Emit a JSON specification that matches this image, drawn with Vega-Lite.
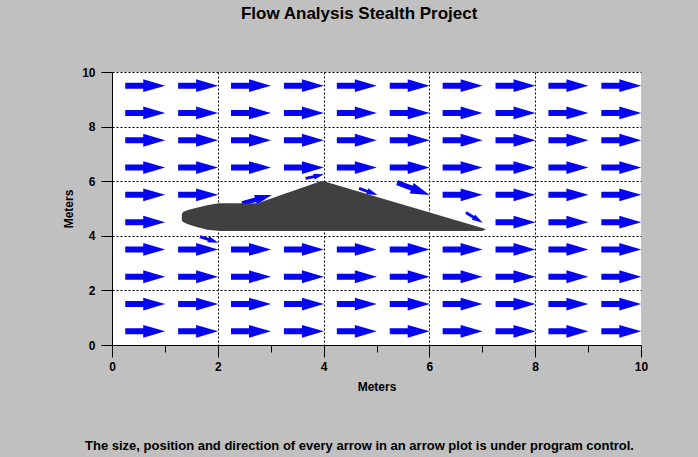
{
  "$schema": "https://vega.github.io/schema/vega-lite/v6.json",
  "background": "#c0c0c0",
  "padding": {"left": 62, "top": 5, "right": 56, "bottom": 4},
  "config": {
    "view": {"fill": "white", "stroke": null},
    "font": "Liberation Sans"
  },
  "title": {
    "text": "Flow Analysis Stealth Project",
    "font": "Liberation Sans",
    "fontSize": 17,
    "fontWeight": "bold",
    "color": "black",
    "anchor": "middle",
    "offset": 43,
    "dx": 4
  },
  "vconcat": [
    {
      "width": 529,
      "height": 273,
      "title": {
        "text": "The size, position and direction of every arrow in an arrow plot is under program control.",
        "orient": "bottom",
        "font": "Liberation Sans",
        "fontSize": 13,
        "fontWeight": "bold",
        "color": "black",
        "anchor": "middle",
        "offset": 48,
        "dx": -17
      },
      "layer": [
        {
          "data": {
            "values": [
              {"x":0.25,"y":0.5,"dir":0,"speed":1},{"x":1.25,"y":0.5,"dir":0,"speed":1},{"x":2.25,"y":0.5,"dir":0,"speed":1},{"x":3.25,"y":0.5,"dir":0,"speed":1},{"x":4.25,"y":0.5,"dir":0,"speed":1},{"x":5.25,"y":0.5,"dir":0,"speed":1},{"x":6.25,"y":0.5,"dir":0,"speed":1},{"x":7.25,"y":0.5,"dir":0,"speed":1},{"x":8.25,"y":0.5,"dir":0,"speed":1},{"x":9.25,"y":0.5,"dir":0,"speed":1},
              {"x":0.25,"y":1.5,"dir":0,"speed":1},{"x":1.25,"y":1.5,"dir":0,"speed":1},{"x":2.25,"y":1.5,"dir":0,"speed":1},{"x":3.25,"y":1.5,"dir":0,"speed":1},{"x":4.25,"y":1.5,"dir":0,"speed":1},{"x":5.25,"y":1.5,"dir":0,"speed":1},{"x":6.25,"y":1.5,"dir":0,"speed":1},{"x":7.25,"y":1.5,"dir":0,"speed":1},{"x":8.25,"y":1.5,"dir":0,"speed":1},{"x":9.25,"y":1.5,"dir":0,"speed":1},
              {"x":0.25,"y":2.5,"dir":0,"speed":1},{"x":1.25,"y":2.5,"dir":0,"speed":1},{"x":2.25,"y":2.5,"dir":0,"speed":1},{"x":3.25,"y":2.5,"dir":0,"speed":1},{"x":4.25,"y":2.5,"dir":0,"speed":1},{"x":5.25,"y":2.5,"dir":0,"speed":1},{"x":6.25,"y":2.5,"dir":0,"speed":1},{"x":7.25,"y":2.5,"dir":0,"speed":1},{"x":8.25,"y":2.5,"dir":0,"speed":1},{"x":9.25,"y":2.5,"dir":0,"speed":1},
              {"x":0.25,"y":3.5,"dir":0,"speed":1},{"x":1.25,"y":3.5,"dir":0,"speed":1},{"x":2.25,"y":3.5,"dir":0,"speed":1},{"x":3.25,"y":3.5,"dir":0,"speed":1},{"x":4.25,"y":3.5,"dir":0,"speed":1},{"x":5.25,"y":3.5,"dir":0,"speed":1},{"x":6.25,"y":3.5,"dir":0,"speed":1},{"x":7.25,"y":3.5,"dir":0,"speed":1},{"x":8.25,"y":3.5,"dir":0,"speed":1},{"x":9.25,"y":3.5,"dir":0,"speed":1},
              {"x":0.25,"y":4.5,"dir":0,"speed":1},{"x":7.25,"y":4.5,"dir":0,"speed":1},{"x":8.25,"y":4.5,"dir":0,"speed":1},{"x":9.25,"y":4.5,"dir":0,"speed":1},
              {"x":0.25,"y":5.5,"dir":0,"speed":1},{"x":1.25,"y":5.5,"dir":0,"speed":1},{"x":6.25,"y":5.5,"dir":0,"speed":1},{"x":7.25,"y":5.5,"dir":0,"speed":1},{"x":8.25,"y":5.5,"dir":0,"speed":1},{"x":9.25,"y":5.5,"dir":0,"speed":1},
              {"x":0.25,"y":6.5,"dir":0,"speed":1},{"x":1.25,"y":6.5,"dir":0,"speed":1},{"x":2.25,"y":6.5,"dir":0,"speed":1},{"x":3.25,"y":6.5,"dir":0,"speed":1},{"x":4.25,"y":6.5,"dir":0,"speed":1},{"x":5.25,"y":6.5,"dir":0,"speed":1},{"x":6.25,"y":6.5,"dir":0,"speed":1},{"x":7.25,"y":6.5,"dir":0,"speed":1},{"x":8.25,"y":6.5,"dir":0,"speed":1},{"x":9.25,"y":6.5,"dir":0,"speed":1},
              {"x":0.25,"y":7.5,"dir":0,"speed":1},{"x":1.25,"y":7.5,"dir":0,"speed":1},{"x":2.25,"y":7.5,"dir":0,"speed":1},{"x":3.25,"y":7.5,"dir":0,"speed":1},{"x":4.25,"y":7.5,"dir":0,"speed":1},{"x":5.25,"y":7.5,"dir":0,"speed":1},{"x":6.25,"y":7.5,"dir":0,"speed":1},{"x":7.25,"y":7.5,"dir":0,"speed":1},{"x":8.25,"y":7.5,"dir":0,"speed":1},{"x":9.25,"y":7.5,"dir":0,"speed":1},
              {"x":0.25,"y":8.5,"dir":0,"speed":1},{"x":1.25,"y":8.5,"dir":0,"speed":1},{"x":2.25,"y":8.5,"dir":0,"speed":1},{"x":3.25,"y":8.5,"dir":0,"speed":1},{"x":4.25,"y":8.5,"dir":0,"speed":1},{"x":5.25,"y":8.5,"dir":0,"speed":1},{"x":6.25,"y":8.5,"dir":0,"speed":1},{"x":7.25,"y":8.5,"dir":0,"speed":1},{"x":8.25,"y":8.5,"dir":0,"speed":1},{"x":9.25,"y":8.5,"dir":0,"speed":1},
              {"x":0.25,"y":9.5,"dir":0,"speed":1},{"x":1.25,"y":9.5,"dir":0,"speed":1},{"x":2.25,"y":9.5,"dir":0,"speed":1},{"x":3.25,"y":9.5,"dir":0,"speed":1},{"x":4.25,"y":9.5,"dir":0,"speed":1},{"x":5.25,"y":9.5,"dir":0,"speed":1},{"x":6.25,"y":9.5,"dir":0,"speed":1},{"x":7.25,"y":9.5,"dir":0,"speed":1},{"x":8.25,"y":9.5,"dir":0,"speed":1},{"x":9.25,"y":9.5,"dir":0,"speed":1},
              {"x":2.46,"y":5.18,"dir":-16,"speed":0.77},
              {"x":3.66,"y":6.1,"dir":-13,"speed":0.47},
              {"x":4.67,"y":5.74,"dir":20,"speed":0.49},
              {"x":5.39,"y":5.95,"dir":21,"speed":0.87},
              {"x":6.69,"y":4.85,"dir":31,"speed":0.49},
              {"x":1.66,"y":3.97,"dir":18,"speed":0.49}
            ]
          },
          "mark": {
            "type": "point",
            "shape": "M0,-0.15L0.9,-0.15L0.9,-0.32L2,0L0.9,0.32L0.9,0.15L0,0.15Z",
            "filled": true,
            "color": "#0505f0",
            "opacity": 1,
            "strokeWidth": 0
          },
          "encoding": {
            "x": {
              "field": "x",
              "type": "quantitative",
              "scale": {"domain": [0, 10], "nice": false, "zero": false},
              "axis": {
                "values": [0,0.5,1,1.5,2,2.5,3,3.5,4,4.5,5,5.5,6,6.5,7,7.5,8,8.5,9,9.5,10],
                "labelExpr": "datum.value % 2 === 0 ? datum.label : ''",
                "labelOverlap": false,
                "labelFlush": false,
                "labelBound": false,
                "tickSize": {"condition": {"test": "datum.value % 2 === 0", "value": 12}, "value": 7},
                "tickColor": "black",
                "domainColor": "black",
                "grid": true,
                "gridColor": "black",
                "gridDash": [2, 2],
                "gridOpacity": {"condition": {"test": "datum.value % 2 === 0 && datum.value > 0 && datum.value < 10", "value": 1}, "value": 0},
                "labelFont": "Liberation Sans",
                "labelFontSize": 12,
                "labelFontWeight": "bold",
                "labelColor": "black",
                "labelPadding": 4,
                "title": "Meters",
                "titleFont": "Liberation Sans",
                "titleFontSize": 12,
                "titleFontWeight": "bold",
                "titleColor": "black",
                "titlePadding": 9
              }
            },
            "y": {
              "field": "y",
              "type": "quantitative",
              "scale": {"domain": [0, 10], "nice": false, "zero": false},
              "axis": {
                "values": [0,0.5,1,1.5,2,2.5,3,3.5,4,4.5,5,5.5,6,6.5,7,7.5,8,8.5,9,9.5,10],
                "labelExpr": "datum.value % 2 === 0 ? datum.label : ''",
                "labelOverlap": false,
                "labelFlush": false,
                "labelBound": false,
                "tickSize": {"condition": {"test": "datum.value % 2 === 0", "value": 11}, "value": 6},
                "tickColor": "black",
                "domainColor": "black",
                "grid": true,
                "gridColor": "black",
                "gridDash": [2, 2],
                "gridOpacity": {"condition": {"test": "datum.value % 2 === 0 && datum.value > 0", "value": 1}, "value": 0},
                "labelFont": "Liberation Sans",
                "labelFontSize": 12,
                "labelFontWeight": "bold",
                "labelColor": "black",
                "labelPadding": 6,
                "title": "Meters",
                "titleFont": "Liberation Sans",
                "titleFontSize": 12,
                "titleFontWeight": "bold",
                "titleColor": "black",
                "titlePadding": 6
              }
            },
            "angle": {"field": "dir", "type": "quantitative", "scale": null},
            "size": {
              "field": "speed",
              "type": "quantitative",
              "scale": {"type": "pow", "exponent": 2, "domain": [0, 1], "range": [0, 1600]},
              "legend": null
            }
          }
        },
        {
          "data": {
            "values": [
              {"x":1.32,"top":4.8,"bot":4.56},
              {"x":1.35,"top":4.88,"bot":4.5},
              {"x":1.45,"top":4.95,"bot":4.41},
              {"x":1.6,"top":5.03,"bot":4.32},
              {"x":1.8,"top":5.12,"bot":4.22},
              {"x":1.95,"top":5.17,"bot":4.19},
              {"x":2.05,"top":5.19,"bot":4.18},
              {"x":2.75,"top":5.19,"bot":4.18},
              {"x":3.97,"top":6.02,"bot":4.18},
              {"x":7.0,"top":4.29,"bot":4.18},
              {"x":7.06,"top":4.25,"bot":4.23}
            ]
          },
          "mark": {"type": "area", "color": "#404040", "opacity": 1, "interpolate": "linear"},
          "encoding": {
            "x": {"field": "x", "type": "quantitative", "title": "Meters"},
            "y": {"field": "top", "type": "quantitative", "title": "Meters"},
            "y2": {"field": "bot"}
          }
        }
      ]
    }
  ]
}
